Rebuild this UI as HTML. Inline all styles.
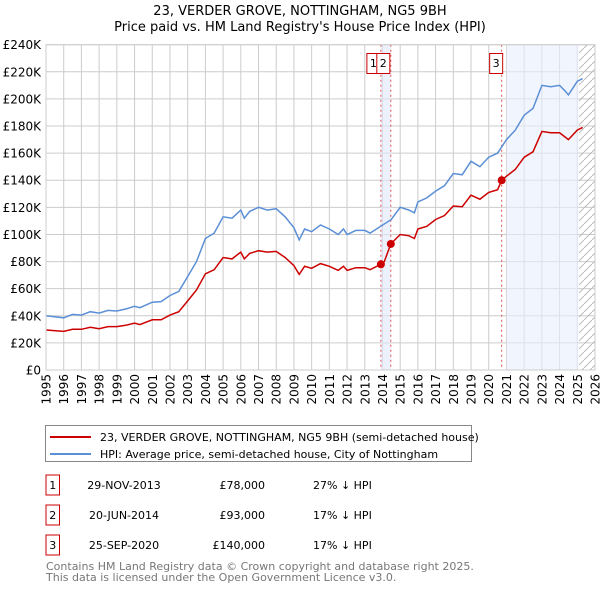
<!DOCTYPE html>
<html><head><meta charset="utf-8"><style>
body{margin:0;background:#fff;font-family:"Liberation Sans","DejaVu Sans",sans-serif;}
svg text{font-family:"DejaVu Sans","Liberation Sans",sans-serif;}
</style></head><body>
<svg id="chart" width="600" height="590" xmlns="http://www.w3.org/2000/svg">
<text x="300" y="15" text-anchor="middle" font-size="13">23, VERDER GROVE, NOTTINGHAM, NG5 9BH</text>
<text x="300" y="31" text-anchor="middle" font-size="13">Price paid vs. HM Land Registry's House Price Index (HPI)</text>
<g id="grid"></g><g id="shade"></g><g id="series"></g><g id="marks"></g><g id="axes"></g>
<g>
<rect x="45.5" y="425.5" width="426" height="36" fill="#fff" stroke="#888"/>
<line x1="50" y1="437" x2="91" y2="437" stroke="#cc0000" stroke-width="2"/>
<text x="100" y="441" font-size="11">23, VERDER GROVE, NOTTINGHAM, NG5 9BH (semi-detached house)</text>
<line x1="50" y1="454" x2="91" y2="454" stroke="#5b8fd6" stroke-width="2"/>
<text x="100" y="458" font-size="11">HPI: Average price, semi-detached house, City of Nottingham</text>
</g>
<g id="table" font-size="11"></g>
<text x="46" y="570" font-size="11" fill="#777">Contains HM Land Registry data © Crown copyright and database right 2025.</text>
<text x="46" y="581" font-size="11" fill="#777">This data is licensed under the Open Government Licence v3.0.</text>
</svg>
<script>
const hpiYears=[1995,1996,1996.5,1997,1997.5,1998,1998.5,1999,1999.5,2000,2000.3,2001,2001.5,2002,2002.5,2003,2003.5,2004,2004.5,2005,2005.5,2006,2006.2,2006.5,2007,2007.5,2008,2008.5,2009,2009.3,2009.6,2010,2010.5,2011,2011.5,2011.8,2012,2012.5,2013,2013.3,2013.9,2014.5,2015,2015.5,2015.8,2016,2016.5,2017,2017.5,2018,2018.5,2019,2019.5,2020,2020.5,2021,2021.5,2022,2022.5,2023,2023.5,2024,2024.3,2024.5,2025,2025.3];
const hpiValues=[40,38.5,41,40.5,43,42,44,43.5,45,47,46,50,50.5,55,58,69,80,97,101,113,112,118,112,117,120,118,119,113,105,96,104,102,107,104,100,104,100,103,103,101,106,111,120,118,116,124,127,132,136,145,144,154,150,157,160,170,177,188,193,210,209,210,206,203,213,215];
const priceYears=[1995,1996,1996.5,1997,1997.5,1998,1998.5,1999,1999.5,2000,2000.3,2001,2001.5,2002,2002.5,2003,2003.5,2004,2004.5,2005,2005.5,2006,2006.2,2006.5,2007,2007.5,2008,2008.5,2009,2009.3,2009.6,2010,2010.5,2011,2011.5,2011.8,2012,2012.5,2013,2013.3,2013.91,2014.1,2014.47,2015,2015.5,2015.8,2016,2016.5,2017,2017.5,2018,2018.5,2019,2019.5,2020,2020.5,2020.73,2021,2021.5,2022,2022.5,2023,2023.5,2024,2024.3,2024.5,2025,2025.3];
const priceValues=[29.5,28.5,30,30,31.5,30.5,32,32,33,34.5,33.5,37,37,40.5,43,51,59,71,74,83,82,87,82,86,88,87,87.5,83,77,70.5,76.5,75,78.5,76.5,73.5,76.5,73.5,75.5,75.5,74,78,80,93,100,99,97,104,106,111,114,121,120.5,129,126,131,133,140,143,148,157,161,176,175,175,172,170,177,179];
const saleLabels=["1","2","3"];
const saleYears=[2013.91,2014.47,2020.73];
const saleValues=[78,93,140];
const saleDates=["29-NOV-2013","20-JUN-2014","25-SEP-2020"];
const salePrices=["£78,000","£93,000","£140,000"];
const saleDiffs=["27% ↓ HPI","17% ↓ HPI","17% ↓ HPI"];
const yTicks=[0,20,40,60,80,100,120,140,160,180,200,220,240];
const xTicks=[1995,1996,1997,1998,1999,2000,2001,2002,2003,2004,2005,2006,2007,2008,2009,2010,2011,2012,2013,2014,2015,2016,2017,2018,2019,2020,2021,2022,2023,2024,2025,2026];

const L=46,R=595,T=44.7,B=370;
const x=y=>L+(y-1995)/(2026-1995)*(R-L);
const yv=v=>B-v/240*(B-T);
const NS="http://www.w3.org/2000/svg";
function mk(tag,attrs,parent,txt){const e=document.createElementNS(NS,tag);for(const k in attrs)e.setAttribute(k,attrs[k]);if(txt!==undefined)e.textContent=txt;document.getElementById(parent).appendChild(e);return e;}
mk('rect',{x:L,y:T,width:R-L,height:B-T,fill:'#fff'},'grid');
xTicks.forEach(t=>{mk('line',{x1:x(t),x2:x(t),y1:T,y2:B,stroke:'#ccc','stroke-width':1},'grid');
 const tx=x(t)+4.5;
 const e=mk('text',{x:tx,y:374,'text-anchor':'end','font-size':12,transform:'rotate(-90 '+tx+' 374)'},'axes',String(t));
 
 });
yTicks.forEach(t=>{mk('line',{x1:L,x2:R,y1:yv(t),y2:yv(t),stroke:'#ccc','stroke-width':1},'grid');
 const e=mk('text',{x:41,y:yv(t)+4.5,'text-anchor':'end','font-size':12},'axes',t===0?'£0':'£'+t+'K');
 
 });
mk('rect',{x:x(saleYears[0]),y:T,width:x(saleYears[1])-x(saleYears[0]),height:B-T,fill:'#dfe8f8',opacity:0.6},'shade');
mk('rect',{x:x(2021.0),y:T,width:x(2025.05)-x(2021.0),height:B-T,fill:'#e8eefb',opacity:0.6},'shade');
const defs=mk('defs',{},'shade');
const pat=document.createElementNS(NS,'pattern');pat.setAttribute('id','hatch');pat.setAttribute('width','8');pat.setAttribute('height','8');pat.setAttribute('patternUnits','userSpaceOnUse');
const pl=document.createElementNS(NS,'path');pl.setAttribute('d','M0,8 L8,0');pl.setAttribute('stroke','#bbb');pat.appendChild(pl);defs.appendChild(pat);
const h=mk('rect',{x:x(2025.1),y:T,width:R-x(2025.1),height:B-T,fill:'url(#hatch)'},'shade');


saleYears.forEach(s=>{mk('line',{x1:x(s),x2:x(s),y1:T,y2:B,stroke:'#e05050','stroke-dasharray':'2,3','stroke-width':1},'shade');});
const line=(xs,vs)=>xs.map((t,i)=>(i?'L':'M')+x(t).toFixed(1)+','+yv(vs[i]).toFixed(1)).join(' ');
const hp=mk('path',{d:line(hpiYears,hpiValues),fill:'none',stroke:'#5b8fd6','stroke-width':1.5},'series');


const pp=mk('path',{d:line(priceYears,priceValues),fill:'none',stroke:'#cc0000','stroke-width':1.5},'series');


mk('rect',{x:L,y:T,width:R-L,height:B-T,fill:'none',stroke:'#ccc'},'axes');
saleYears.forEach((s,i)=>{
 const c=mk('circle',{cx:x(s),cy:yv(saleValues[i]),r:4,fill:'#cc0000'},'marks');
 
 
 const bx=x(s)-(i===2?12:14);
 const r=mk('rect',{x:bx,y:53.5,width:13,height:20,fill:'#fff',stroke:'#cc0000'},'marks');
 
 
 mk('text',{x:bx+6.5,y:67,'text-anchor':'middle','font-size':11},'marks',saleLabels[i]);
 const ty=475+i*30;
 const tb=mk('rect',{x:46,y:ty,width:13.5,height:20,fill:'#fff',stroke:'#cc0000'},'table');
 
 
 mk('text',{x:52.7,y:ty+14,'text-anchor':'middle'},'table',saleLabels[i]);
 mk('text',{x:124,y:ty+14,'text-anchor':'middle'},'table',saleDates[i]);
 mk('text',{x:265,y:ty+14,'text-anchor':'end'},'table',salePrices[i]);
 mk('text',{x:313,y:ty+14},'table',saleDiffs[i]);
});
</script>
</body></html>
